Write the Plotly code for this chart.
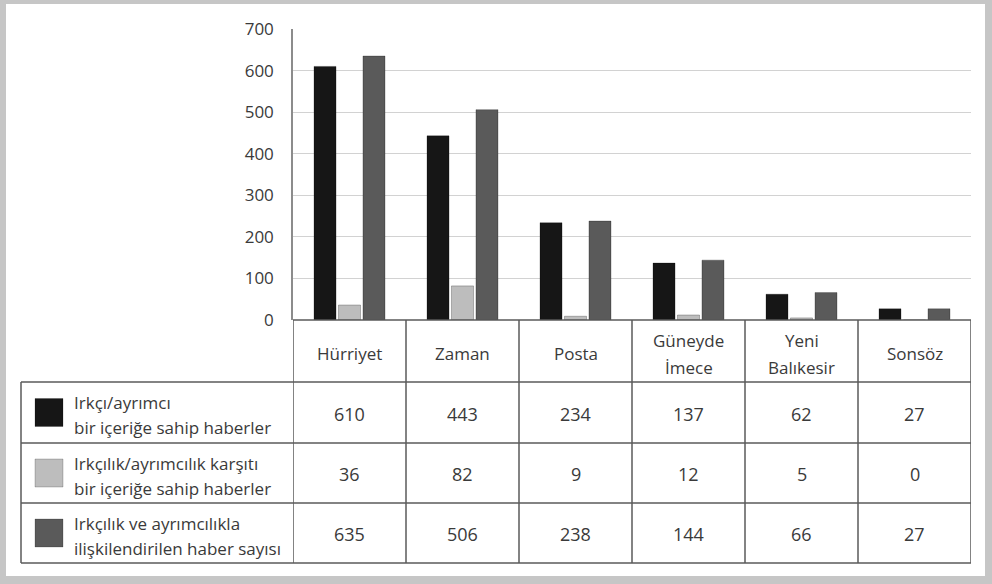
import plotly.graph_objects as go

# Newspapers and the three counts per paper
newspapers = ["Hürriyet", "Zaman", "Posta", "Güneyde<br>İmece", "Yeni<br>Balıkesir", "Sonsöz"]
racist_content = [610, 443, 234, 137, 62, 27]
anti_racist_content = [36, 82, 9, 12, 5, 0]
related_total = [635, 506, 238, 144, 66, 27]

series_names = [
    "Irkçı/ayrımcı<br>bir içeriğe sahip haberler",
    "Irkçılık/ayrımcılık karşıtı<br>bir içeriğe sahip haberler",
    "Irkçılık ve ayrımcılıkla<br>ilişkilendirilen haber sayısı",
]
series_values = [racist_content, anti_racist_content, related_total]
series_colors = ["#161616", "#bdbdbd", "#5a5a5a"]

y_ticks = [0, 100, 200, 300, 400, 500, 600, 700]

W, H = 992, 584
FONT = "Open Sans"
TXT = "#3a3a3a"
LINE = "#5a5a5a"


def px(x):
    return x / W


def py(y):
    return 1 - y / H


fig = go.Figure()
for name, vals, col in zip(series_names, series_values, series_colors):
    fig.add_trace(go.Bar(
        x=list(range(len(newspapers))), y=vals, name=name.replace("<br>", " "),
        marker=dict(color=col, line=dict(color="rgba(0,0,0,0.25)", width=1)),
        showlegend=False,
    ))

shapes = []
annotations = []

# outer frame: grey paper with white panel
shapes.append(dict(type="rect", xref="paper", yref="paper",
                   x0=px(6), x1=px(985), y0=py(576), y1=py(4),
                   fillcolor="white", line=dict(width=0), layer="below"))

# table rows (below the category axis)
header_top, header_bot = 320, 382
row_edges = [382, 443, 503, 563]
table_left = 21

# horizontal lines of the table
shapes.append(dict(type="line", xref="x", yref="paper", x0=-0.5, x1=len(newspapers) - 0.5,
                   y0=py(header_top), y1=py(header_top), line=dict(color=LINE, width=1.5)))
for ye in row_edges:
    shapes.append(dict(type="line", xref="paper", yref="paper", x0=px(table_left), x1=px(971),
                       y0=py(ye), y1=py(ye), line=dict(color=LINE, width=1.5)))
# left border of legend column
shapes.append(dict(type="line", xref="paper", yref="paper", x0=px(table_left), x1=px(table_left),
                   y0=py(row_edges[0]), y1=py(row_edges[-1]), line=dict(color=LINE, width=1.5)))
# column separators
for i in range(len(newspapers) + 1):
    shapes.append(dict(type="line", xref="x", yref="paper", x0=i - 0.5, x1=i - 0.5,
                       y0=py(header_top), y1=py(row_edges[-1]), line=dict(color=LINE, width=1.5)))

# category labels in header row
for i, cat in enumerate(newspapers):
    lines = cat.split("<br>")
    mid = (header_top + header_bot) / 2
    if len(lines) == 1:
        ys = [mid + 2]
    else:
        ys = [mid - 11, mid + 16]
    for ln, yy in zip(lines, ys):
        annotations.append(dict(xref="x", yref="paper", x=i, y=py(yy), text=ln, showarrow=False,
                                font=dict(family=FONT, size=17, color=TXT),
                                xanchor="center", yanchor="middle"))

# legend rows with swatches and values
for r, (name, vals, col) in enumerate(zip(series_names, series_values, series_colors)):
    top, bot = row_edges[r], row_edges[r + 1]
    mid = (top + bot) / 2
    shapes.append(dict(type="rect", xref="paper", yref="paper",
                       x0=px(35), x1=px(63), y0=py(mid + 14), y1=py(mid - 14),
                       fillcolor=col, line=dict(color="rgba(0,0,0,0.2)", width=1)))
    for ln, yy in zip(name.split("<br>"), [mid - 10, mid + 15]):
        annotations.append(dict(xref="paper", yref="paper", x=px(72), y=py(yy), text=ln,
                                showarrow=False, xanchor="left", yanchor="middle",
                                font=dict(family=FONT, size=17, color=TXT)))
    for i, v in enumerate(vals):
        annotations.append(dict(xref="x", yref="paper", x=i, y=py(mid + 1), text=str(v),
                                showarrow=False, xanchor="center", yanchor="middle",
                                font=dict(family=FONT, size=18, color=TXT)))

fig.update_layout(
    width=W, height=H,
    margin=dict(l=0, r=0, t=0, b=0),
    paper_bgcolor="#c6c6c6",
    plot_bgcolor="white",
    barmode="group",
    bargap=0.35,
    bargroupgap=0.1,
    font=dict(family=FONT, color=TXT),
    shapes=shapes,
    annotations=annotations,
    xaxis=dict(domain=[px(293), px(971)], range=[-0.5, len(newspapers) - 0.5],
               showticklabels=False, showgrid=False, zeroline=False, showline=False,
               anchor="y", automargin=False),
    yaxis=dict(domain=[py(320), py(29)], range=[0, 700], tickvals=y_ticks,
               showgrid=True, gridcolor="#d2d2d2", gridwidth=1, zeroline=False,
               showline=True, linecolor="#8c8c8c", linewidth=1.5,
               ticks="", ticklabelstandoff=14, automargin=False,
               tickfont=dict(family=FONT, size=17, color=TXT)),
)

fig.write_html("out.html")
